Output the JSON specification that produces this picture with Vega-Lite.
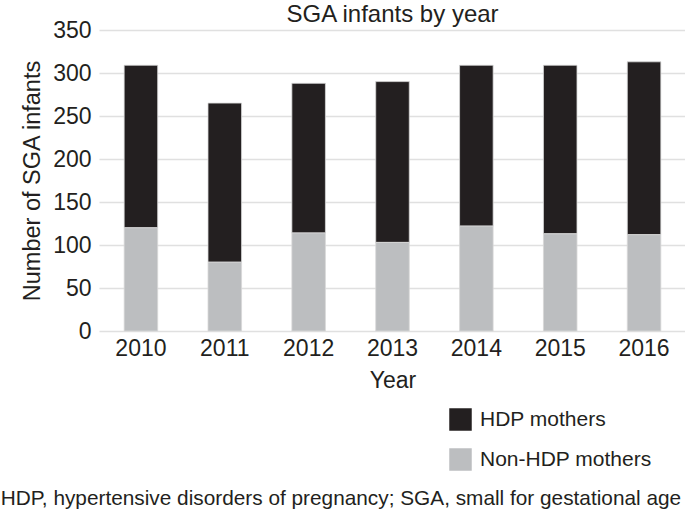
{
  "$schema": "https://vega.github.io/schema/vega-lite/v6.json",
  "padding": {"left": 0, "top": 3, "right": 0, "bottom": 0},
  "config": {
    "font": "Liberation Sans",
    "view": {"stroke": null},
    "concat": {"spacing": 0}
  },
  "title": {
    "text": "HDP, hypertensive disorders of pregnancy; SGA, small for gestational age",
    "orient": "bottom",
    "anchor": "start",
    "fontSize": 20.8,
    "fontWeight": "normal",
    "color": "#231f20",
    "offset": 18,
    "dx": -20
  },
  "vconcat": [
    {
      "width": 587,
      "height": 301,
      "title": {
        "text": "SGA infants by year",
        "fontSize": 24,
        "fontWeight": "normal",
        "color": "#231f20",
        "anchor": "middle",
        "offset": -8
      },
      "data": {
        "values": [
          {"year": "2010", "group": "HDP mothers", "count": 189},
          {"year": "2010", "group": "Non-HDP mothers", "count": 120},
          {"year": "2011", "group": "HDP mothers", "count": 185},
          {"year": "2011", "group": "Non-HDP mothers", "count": 80},
          {"year": "2012", "group": "HDP mothers", "count": 174},
          {"year": "2012", "group": "Non-HDP mothers", "count": 114},
          {"year": "2013", "group": "HDP mothers", "count": 187},
          {"year": "2013", "group": "Non-HDP mothers", "count": 103},
          {"year": "2014", "group": "HDP mothers", "count": 187},
          {"year": "2014", "group": "Non-HDP mothers", "count": 122},
          {"year": "2015", "group": "HDP mothers", "count": 196},
          {"year": "2015", "group": "Non-HDP mothers", "count": 113},
          {"year": "2016", "group": "HDP mothers", "count": 201},
          {"year": "2016", "group": "Non-HDP mothers", "count": 112}
        ]
      },
      "mark": {"type": "bar", "stroke": "#d8d8d8", "strokeWidth": 0.8},
      "encoding": {
        "x": {
          "field": "year",
          "type": "ordinal",
          "scale": {"paddingInner": 0.6, "paddingOuter": 0.3},
          "axis": {
            "labelAngle": 0,
            "labelFontSize": 23,
            "labelColor": "#231f20",
            "labelPadding": 6,
            "ticks": false,
            "domain": false,
            "title": "Year",
            "titleFontSize": 23,
            "titleFontWeight": "normal",
            "titleColor": "#231f20",
            "titlePadding": 9
          }
        },
        "y": {
          "field": "count",
          "type": "quantitative",
          "stack": "zero",
          "scale": {"domain": [0, 350], "nice": false},
          "axis": {
            "values": [0, 50, 100, 150, 200, 250, 300, 350],
            "labelFontSize": 23,
            "labelColor": "#231f20",
            "labelPadding": 8,
            "ticks": false,
            "domain": false,
            "gridColor": "#e0e0e0",
            "gridWidth": 1.5,
            "title": "Number of SGA infants",
            "titleFontSize": 23.5,
            "titleFontWeight": "normal",
            "titleColor": "#231f20",
            "titlePadding": 8
          }
        },
        "color": {
          "field": "group",
          "type": "nominal",
          "scale": {"domain": ["HDP mothers", "Non-HDP mothers"], "range": ["#231f20", "#bcbec0"]},
          "legend": {
            "orient": "none",
            "legendX": 350,
            "legendY": 378,
            "title": null,
            "symbolType": "square",
            "symbolSize": 506,
            "symbolStrokeWidth": 0,
            "labelFontSize": 21,
            "labelLimit": 400,
            "labelColor": "#231f20",
            "labelOffset": 8,
            "rowPadding": 17
          }
        },
        "order": {"field": "group", "sort": "descending"}
      }
    }
  ]
}
